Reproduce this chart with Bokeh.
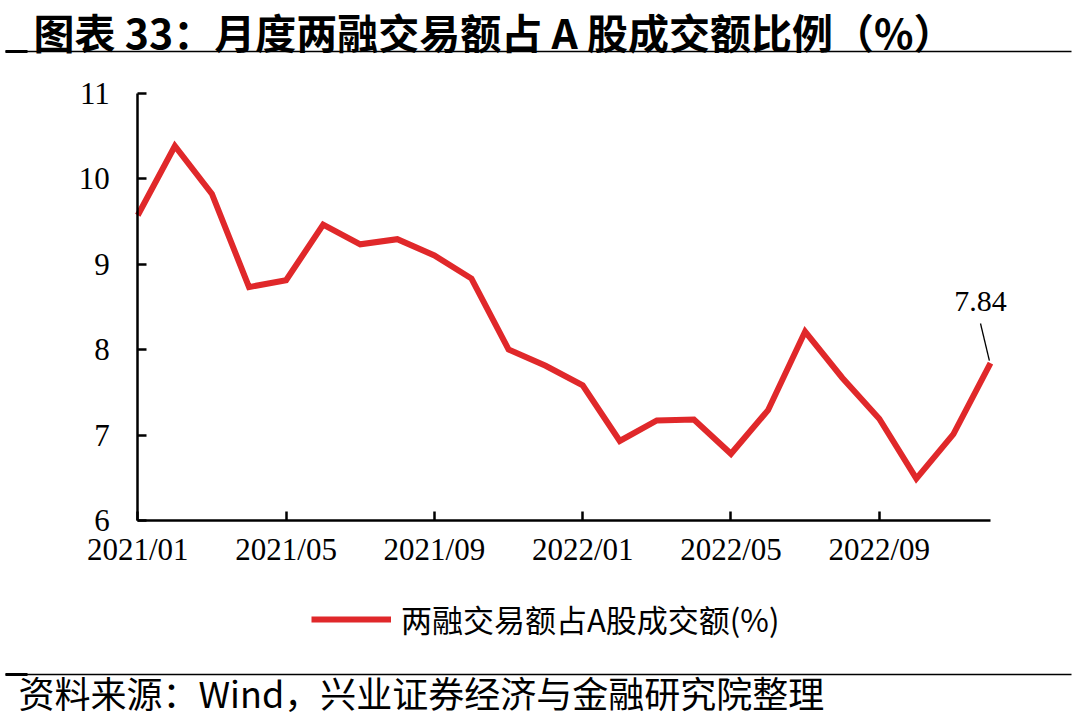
from bokeh.plotting import figure
from bokeh.models import Range1d, FixedTicker, Label, Arrow, Legend, LegendItem
from bokeh.embed import file_html
from bokeh.resources import INLINE

# ---- data ----
months = ["2021/01", "2021/02", "2021/03", "2021/04", "2021/05", "2021/06",
          "2021/07", "2021/08", "2021/09", "2021/10", "2021/11", "2021/12",
          "2022/01", "2022/02", "2022/03", "2022/04", "2022/05", "2022/06",
          "2022/07", "2022/08", "2022/09", "2022/10", "2022/11", "2022/12"]
ratio = [9.57, 10.38, 9.82, 8.73, 8.81, 9.46, 9.23, 9.29, 9.10, 8.83, 8.00, 7.81,
         7.58, 6.93, 7.17, 7.18, 6.78, 7.29, 8.21, 7.67, 7.19, 6.49, 7.01, 7.84]
tick_months = ["2021/01", "2021/05", "2021/09", "2022/01", "2022/05", "2022/09"]
y_ticks = [6, 7, 8, 9, 10, 11]
series_name = "两融交易额占A股成交额(%)"
title_text = "图表 33：月度两融交易额占 A 股成交额比例（%）"
source_text = "资料来源：Wind，兴业证券经济与金融研究院整理"

x = list(range(len(months)))
RED = "#E0282A"

W, H = 1080, 718
# layout geometry (canvas px): where the value axes sit
AX_L, AX_R = 137.3, 990.0
AX_T, AX_B = 92.5, 520.0
Y_MIN, Y_MAX = min(y_ticks), max(y_ticks)
n = len(months) - 1
ppx = (AX_R - AX_L) / n
ppy = (AX_B - AX_T) / (Y_MAX - Y_MIN)

def sx(px):
    return (px - AX_L) / ppx

def sy(py):
    return Y_MIN + (AX_B - py) / ppy

p = figure(width=W, height=H, output_backend="svg", toolbar_location=None,
           x_range=Range1d(sx(0), sx(W)), y_range=Range1d(sy(H), sy(0)),
           min_border=0)
p.outline_line_color = None
p.xgrid.visible = False
p.ygrid.visible = False
p.background_fill_color = "white"
p.border_fill_color = "white"

r = p.line(x, ratio, line_color=RED, line_width=6, line_join="miter")

for ax in (p.xaxis[0], p.yaxis[0]):
    ax.axis_line_width = 2.5
    ax.axis_line_color = "black"
    ax.major_tick_line_width = 2.5
    ax.major_tick_in = 9
    ax.major_tick_out = 0
    ax.minor_tick_in = 0
    ax.minor_tick_out = 0
    ax.major_label_text_font = "Liberation Serif"
    ax.major_label_text_font_size = "31px"
    ax.major_label_text_color = "black"

p.xaxis.fixed_location = Y_MIN
p.xaxis.bounds = (0, n)
p.xaxis.ticker = FixedTicker(ticks=[months.index(m) for m in tick_months])
p.xaxis.major_label_overrides = {months.index(m): m for m in tick_months}
p.xaxis.major_label_standoff = 11
p.yaxis.fixed_location = 0
p.yaxis.bounds = (Y_MIN, Y_MAX)
p.yaxis.ticker = FixedTicker(ticks=y_ticks)
p.yaxis.major_label_standoff = 28

# last value annotation
p.add_layout(Label(x=x[-1], y=ratio[-1], text=f"{ratio[-1]:.2f}",
                   x_offset=-10, y_offset=62, text_align="center",
                   text_baseline="middle", text_font="Liberation Serif",
                   text_font_size="30px", text_color="black"))
p.add_layout(Arrow(end=None, x_start=x[-1] - 0.03, y_start=ratio[-1] + 0.03,
                   x_end=sx(980), y_end=sy(323),
                   line_color="black", line_width=1.3))

# legend
legend = Legend(items=[LegendItem(label=series_name, renderers=[r])],
                location=(311, H - 641), orientation="horizontal",
                border_line_color=None, background_fill_alpha=0,
                glyph_width=80, glyph_height=20, label_standoff=10,
                label_text_font="Noto Sans CJK SC", label_text_font_size="31px",
                label_text_color="black", padding=0, margin=0, spacing=0)
p.add_layout(legend)

# title & rules
p.add_layout(Label(x=sx(33), y=sy(0), text=title_text, text_baseline="top",
                   text_font="Noto Sans CJK SC", text_font_style="bold",
                   text_font_size="41px", text_color="black"))
for yy in (51, 674):
    p.add_layout(Arrow(end=None, x_start=sx(5), y_start=sy(yy), x_end=sx(1071),
                       y_end=sy(yy), line_color="black", line_width=1.5))
    p.add_layout(Arrow(end=None, x_start=sx(5), y_start=sy(yy), x_end=sx(27),
                       y_end=sy(yy), line_color="black", line_width=3))

# source
p.add_layout(Label(x=sx(18), y=sy(717), text=source_text, text_baseline="bottom",
                   text_font="Noto Sans CJK SC", text_font_size="36px",
                   text_color="black"))

open("out.html", "w").write(file_html(p, INLINE))
